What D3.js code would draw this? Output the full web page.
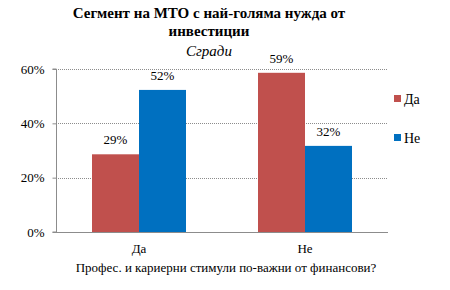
<!DOCTYPE html>
<html>
<head>
<meta charset="utf-8">
<script src="https://cdn.jsdelivr.net/npm/d3@7"></script>
</head>
<body style="margin:0;background:#fff">
<svg width="450" height="290"></svg>
<script>
// data
var categories = ["Да", "Не"];
var seriesNames = ["Да", "Не"];
var seriesDa = [0.286, 0.586];
var seriesNe = [0.523, 0.317];
var yTicks = [0, 0.2, 0.4, 0.6];
var colors = ["#C0504D", "#0070C0"];

var FONT = "Liberation Serif";
var svg = d3.select("svg");
var margin = {top: 69, left: 56, right: 62, bottom: 58};
var width = 450 - margin.left - margin.right,
    height = 290 - margin.top - margin.bottom;

var g = svg.append("g")
    .attr("transform", "translate(" + margin.left + "," + margin.top + ")");

var x = d3.scaleBand().domain(categories).range([0, width]).paddingInner(0).paddingOuter(0);
var x1 = d3.scaleBand().domain(seriesNames).range([x.bandwidth() / 2 - 47, x.bandwidth() / 2 + 47]);
var y = d3.scaleLinear().domain([0, 0.6]).range([height, 0]);

// gridlines
g.selectAll(".grid")
    .data(yTicks)
    .enter()
    .append("line")
    .attr("x1", 0)
    .attr("x2", width)
    .attr("y1", d => Math.round(y(d)) + 0.5)
    .attr("y2", d => Math.round(y(d)) + 0.5)
    .attr("stroke", "#8c8c8c")
    .attr("stroke-dasharray", "1,1");

// y axis
var yAxis = d3.axisLeft(y).tickValues(yTicks).tickFormat(d3.format(".0%")).tickSize(4).tickPadding(8);
var ya = g.append("g").attr("transform", "translate(0.5,0)").call(yAxis);
ya.attr("font-family", null).attr("font-size", null);
ya.select(".domain").attr("stroke", "#8c8c8c").attr("d", "M-4," + height + "H0V0H-4");
ya.selectAll(".tick line").attr("stroke", "#8c8c8c");
ya.selectAll(".tick text").attr("fill", "#000").attr("font-size", 13);

// bars
var rows = categories.map((c, i) => ({cat: c, vals: [seriesDa[i], seriesNe[i]]}));
var groups = g.selectAll(".grp")
    .data(rows)
    .enter()
    .append("g")
    .attr("transform", d => "translate(" + x(d.cat) + ",0)");

groups.selectAll("rect")
    .data(d => d.vals.map((v, j) => ({s: seriesNames[j], v: v, j: j})))
    .enter()
    .append("rect")
    .attr("x", d => x1(d.s))
    .attr("width", x1.bandwidth())
    .attr("y", d => y(d.v))
    .attr("height", d => height - y(d.v))
    .attr("fill", d => colors[d.j]);

groups.selectAll(".lbl")
    .data(d => d.vals.map((v, j) => ({s: seriesNames[j], v: v})))
    .enter()
    .append("text")
    .attr("x", d => x1(d.s) + x1.bandwidth() / 2)
    .attr("y", d => y(d.v) - 10)
    .attr("text-anchor", "middle")
    .attr("font-size", 13)
    .text(d => d3.format(".0%")(d.v));

// x axis line
g.append("line")
    .attr("x1", 0).attr("x2", width)
    .attr("y1", height + 0.5).attr("y2", height + 0.5)
    .attr("stroke", "#8c8c8c");

g.selectAll(".cat")
    .data(categories)
    .enter()
    .append("text")
    .attr("x", d => x(d) + x.bandwidth() / 2)
    .attr("y", height + 21)
    .attr("text-anchor", "middle")
    .attr("font-size", 13)
    .text(d => d);

// titles
svg.append("text").attr("x", 209).attr("y", 18).attr("text-anchor", "middle")
    .attr("font-size", 15).attr("font-weight", "bold")
    .text("Сегмент на МТО с най-голяма нужда от");
svg.append("text").attr("x", 209).attr("y", 36).attr("text-anchor", "middle")
    .attr("font-size", 15).attr("font-weight", "bold")
    .text("инвестиции");
svg.append("text").attr("x", 209).attr("y", 56).attr("text-anchor", "middle")
    .attr("font-size", 15).attr("font-style", "italic")
    .text("Сгради");
svg.append("text").attr("x", 226).attr("y", 272).attr("text-anchor", "middle")
    .attr("font-size", 13)
    .text("Профес. и кариерни стимули по-важни от финансови?");

// legend
var legend = svg.selectAll(".leg")
    .data(seriesNames)
    .enter()
    .append("g")
    .attr("transform", (d, i) => "translate(394," + (95 + i * 39) + ")");
legend.append("rect").attr("width", 7).attr("height", 7).attr("fill", (d, i) => colors[i]);
legend.append("text").attr("x", 10).attr("y", 9).attr("font-size", 14).text(d => d);

// serif font on every text element
svg.selectAll("text").attr("font-family", FONT);
</script>
</body>
</html>
